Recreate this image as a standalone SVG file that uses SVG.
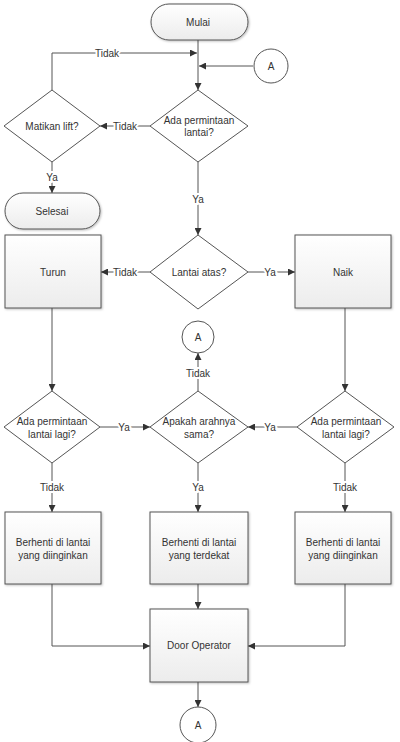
<svg xmlns="http://www.w3.org/2000/svg" width="400" height="742" viewBox="0 0 400 742">
<defs>
<linearGradient id="g" x1="0" y1="0" x2="0" y2="1"><stop offset="0" stop-color="#ffffff"/><stop offset="1" stop-color="#ececec"/></linearGradient>
<marker id="ar" viewBox="0 0 10 10" refX="10" refY="5" markerWidth="7" markerHeight="7" orient="auto" markerUnits="userSpaceOnUse"><path d="M0,0 L10,5 L0,10 Z" fill="#333"/></marker>
<filter id="sh" x="-10%" y="-10%" width="130%" height="130%"><feDropShadow dx="1" dy="1" stdDeviation="0.8" flood-color="#000" flood-opacity="0.25"/></filter>
</defs>
<style>
.s{fill:url(#g);stroke:#555;stroke-width:1;filter:url(#sh)}
.d{fill:#fff;stroke:#555;stroke-width:1}
.c{fill:#fff;stroke:#555;stroke-width:1}
.t{font-family:"Liberation Sans",Arial,sans-serif;font-size:10px;fill:#333;text-anchor:middle;dominant-baseline:central}
.l{fill:none;stroke:#555;stroke-width:1;marker-end:url(#ar)}
.n{fill:none;stroke:#555;stroke-width:1}
.lb{font-family:"Liberation Sans",Arial,sans-serif;font-size:10px;fill:#333;text-anchor:middle;dominant-baseline:central;stroke:#fff;stroke-width:4;paint-order:stroke}
</style>
<rect width="400" height="742" fill="#fff"/>
<g id="connectors">
<path class="l" d="M198,40 V90"/>
<path class="l" d="M253,66 H199"/>
<path class="l" d="M52,90 V53 H197"/>
<path class="l" d="M150,126 H100"/>
<path class="l" d="M52,162 V193"/>
<path class="l" d="M198,162 V235"/>
<path class="l" d="M150,272 H101"/>
<path class="l" d="M248,272 H295"/>
<path class="l" d="M52,308 V391"/>
<path class="l" d="M345,308 V391"/>
<path class="l" d="M198,391 V353"/>
<path class="l" d="M100,427 H150"/>
<path class="l" d="M297,427 H248"/>
<path class="l" d="M52,463 V512"/>
<path class="l" d="M198,463 V512"/>
<path class="l" d="M345,463 V512"/>
<path class="l" d="M198,584 V609"/>
<path class="l" d="M52,584 V646 H150"/>
<path class="l" d="M345,584 V646 H248"/>
<path class="l" d="M198,682 V707"/>
<text class="lb" x="107" y="53">Tidak</text>
<text class="lb" x="125" y="126">Tidak</text>
<text class="lb" x="52" y="177">Ya</text>
<text class="lb" x="198" y="199">Ya</text>
<text class="lb" x="125" y="272">Tidak</text>
<text class="lb" x="270" y="272">Ya</text>
<text class="lb" x="198" y="373">Tidak</text>
<text class="lb" x="124" y="427">Ya</text>
<text class="lb" x="270" y="427">Ya</text>
<text class="lb" x="52" y="487">Tidak</text>
<text class="lb" x="198" y="487">Ya</text>
<text class="lb" x="345" y="487">Tidak</text>
</g>
<g id="mulai"><rect class="s" x="151" y="4" width="97" height="36" rx="18"/><text class="t" x="198" y="22">Mulai</text></g>
<g id="conA1"><circle class="c" cx="271" cy="66" r="17"/><text class="t" x="271" y="66">A</text></g>
<g id="adaPermintaan"><polygon class="d" points="198,90 248,126 198,162 150,126"/><text class="t" x="199" y="120">Ada permintaan</text><text class="t" x="199" y="132">lantai?</text></g>
<g id="matikan"><polygon class="d" points="52,90 100,126 52,162 4,126"/><text class="t" x="52" y="126">Matikan lift?</text></g>
<g id="selesai"><rect class="s" x="5" y="193" width="95" height="36" rx="18"/><text class="t" x="52" y="211">Selesai</text></g>
<g id="lantaiAtas"><polygon class="d" points="198,235 248,272 198,309 150,272"/><text class="t" x="199" y="272">Lantai atas?</text></g>
<g id="turun"><rect class="s" x="5" y="235" width="96" height="73"/><text class="t" x="53" y="272">Turun</text></g>
<g id="naik"><rect class="s" x="295" y="235" width="96" height="73"/><text class="t" x="343" y="272">Naik</text></g>
<g id="conA2"><circle class="c" cx="198" cy="337" r="16"/><text class="t" x="198" y="337">A</text></g>
<g id="adaLagiKiri"><polygon class="d" points="52,391 100,427 52,463 4,427"/><text class="t" x="52" y="421">Ada permintaan</text><text class="t" x="52" y="434">lantai lagi?</text></g>
<g id="apakah"><polygon class="d" points="198,391 248,427 198,463 150,427"/><text class="t" x="199" y="421">Apakah arahnya</text><text class="t" x="199" y="434">sama?</text></g>
<g id="adaLagiKanan"><polygon class="d" points="345,391 394,427 345,463 297,427"/><text class="t" x="346" y="421">Ada permintaan</text><text class="t" x="346" y="434">lantai lagi?</text></g>
<g id="berhentiKiri"><rect class="s" x="5" y="512" width="96" height="72"/><text class="t" x="53" y="542">Berhenti di lantai</text><text class="t" x="53" y="555">yang diinginkan</text></g>
<g id="berhentiTengah"><rect class="s" x="150" y="512" width="98" height="72"/><text class="t" x="199" y="542">Berhenti di lantai</text><text class="t" x="199" y="555">yang terdekat</text></g>
<g id="berhentiKanan"><rect class="s" x="295" y="512" width="96" height="72"/><text class="t" x="343" y="542">Berhenti di lantai</text><text class="t" x="343" y="555">yang diinginkan</text></g>
<g id="doorOperator"><rect class="s" x="150" y="609" width="98" height="73"/><text class="t" x="199" y="645">Door Operator</text></g>
<g id="conA3"><circle class="c" cx="198" cy="725" r="18"/><text class="t" x="198" y="725">A</text></g>
</svg>
